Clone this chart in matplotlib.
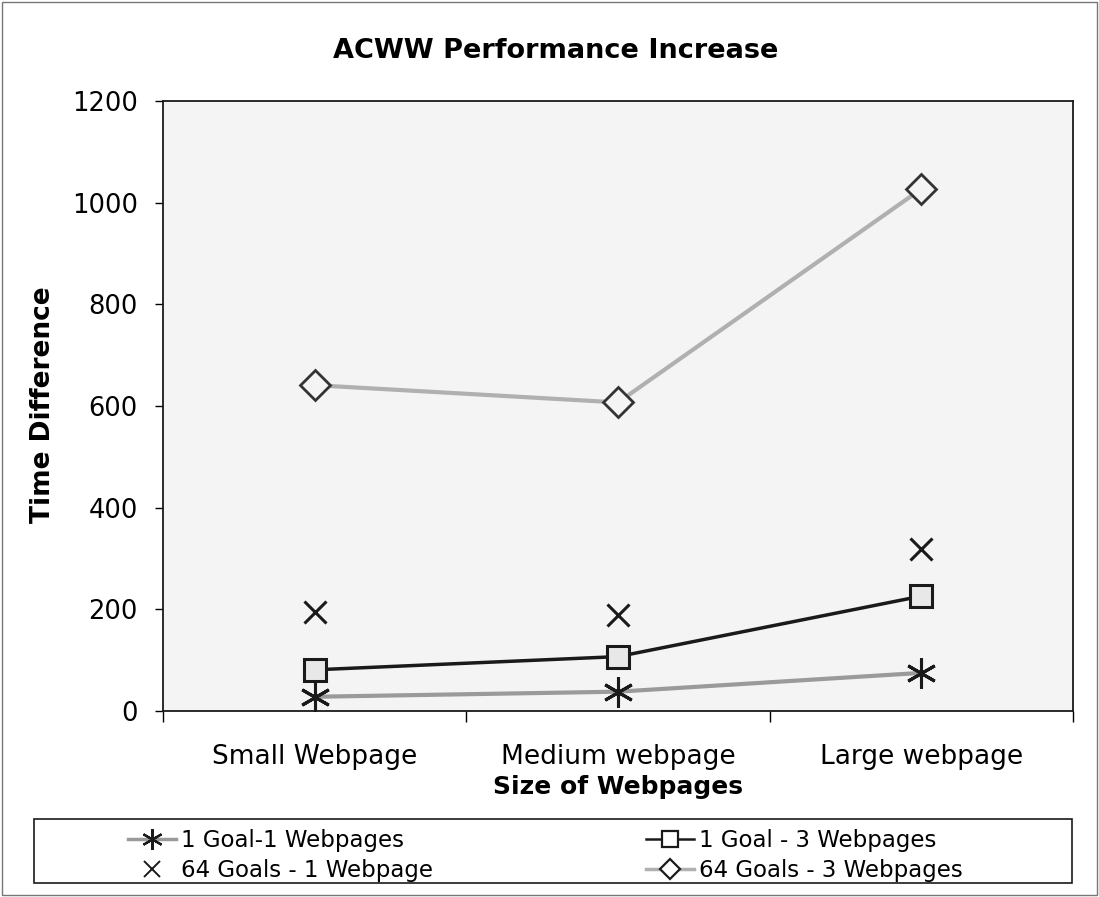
import matplotlib
matplotlib.use("Agg")
import matplotlib.pyplot as plt
from matplotlib.lines import Line2D
from matplotlib.patches import Rectangle

categories = ["Small Webpage", "Medium webpage", "Large webpage"]
s_1g_1w = [28, 38, 75]
s_1g_3w = [81, 107, 226]
s_64g_1w = [195, 189, 318]
s_64g_3w = [641, 607, 1027]
yticks = [0, 200, 400, 600, 800, 1000, 1200]
labels = ["1 Goal-1 Webpages", "64 Goals - 1 Webpage", "1 Goal - 3 Webpages", "64 Goals - 3 Webpages"]

plt.rcParams['font.family'] = ['DejaVu Sans']

W, H = 1099, 897
fig = plt.figure(figsize=(W / 100, H / 100), dpi=100)
ax = fig.add_axes([163 / W, 1 - 711 / H, (1073 - 163) / W, (711 - 101) / H])
ax.set_facecolor('#f4f4f4')

x = list(range(len(categories)))
ax.plot(x, s_64g_3w, color='#b0b0b0', lw=3, marker='D', ms=15, mfc='#f4f4f4', mec='#333333', mew=2, zorder=3)
ax.plot(x, s_1g_3w, color='#1a1a1a', lw=2.5, marker='s', ms=16, mfc='#e8e8e8', mec='#1a1a1a', mew=2.2, zorder=3)
ax.plot(x, s_1g_1w, color='#9a9a9a', lw=3, marker=(6, 2, 0), ms=22, mec='#1a1a1a', mew=2.2, zorder=4)
ax.plot(x, s_64g_1w, linestyle='none', marker='x', ms=16, mec='#1a1a1a', mew=2.2, zorder=4)

ax.set_xlim(-0.5, 2.5)
ax.set_ylim(0, 1200)
ax.set_yticks(yticks)
ax.set_yticklabels([str(v) for v in yticks], fontsize=18.5)
ax.set_xticks(x)
ax.set_xticklabels(categories, fontsize=19)
ax.tick_params(axis='x', length=0, pad=24)
ax.set_xticks([-0.5, 0.5, 1.5, 2.5], minor=True)
ax.tick_params(axis='x', which='minor', length=8, width=1)
ax.tick_params(axis='y', length=6, width=1, pad=12)
for sp in ax.spines.values():
    sp.set_linewidth(1.3)
    sp.set_color('#1a1a1a')

fig.text(556 / W, 1 - 58 / H, "ACWW Performance Increase", fontsize=19.5, fontweight='bold',
         ha='center', va='baseline')
fig.text(43 / W, 1 - 405 / H, "Time Difference", fontsize=19, fontweight='bold',
         ha='center', va='center', rotation=90)
fig.text(618 / W, 1 - 794 / H, "Size of Webpages", fontsize=18, fontweight='bold',
         ha='center', va='baseline')

# legend frame
fig.patches.append(Rectangle((34 / W, 1 - 883 / H), (1072 - 34) / W, (883 - 819) / H,
                             transform=fig.transFigure, fill=False, edgecolor='#1a1a1a', lw=1.2))
# figure border
fig.patches.append(Rectangle((2 / W, 2 / H), (W - 4) / W, (H - 4) / H,
                             transform=fig.transFigure, fill=False, edgecolor='#777777', lw=1))

handles = [
    Line2D([], [], color='#9a9a9a', lw=2.5, marker=(6, 2, 0), ms=15, mec='#1a1a1a', mew=1.6),
    Line2D([], [], linestyle='none', marker='x', ms=11, mec='#1a1a1a', mew=1.4),
    Line2D([], [], color='#1a1a1a', lw=1.8, marker='s', ms=11, mfc='white', mec='#1a1a1a', mew=1.6),
    Line2D([], [], color='#b0b0b0', lw=2.5, marker='D', ms=10, mfc='white', mec='#1a1a1a', mew=1.6),
]
fig.legend(handles, labels, ncol=2, loc='upper left',
           bbox_to_anchor=(128 / W, 1 - 829 / H), fontsize=16.5, frameon=False,
           handlelength=2.1, handletextpad=0.2, columnspacing=9.3, borderpad=0,
           borderaxespad=0, labelspacing=0.3)

fig.savefig("out.png", dpi=100)
